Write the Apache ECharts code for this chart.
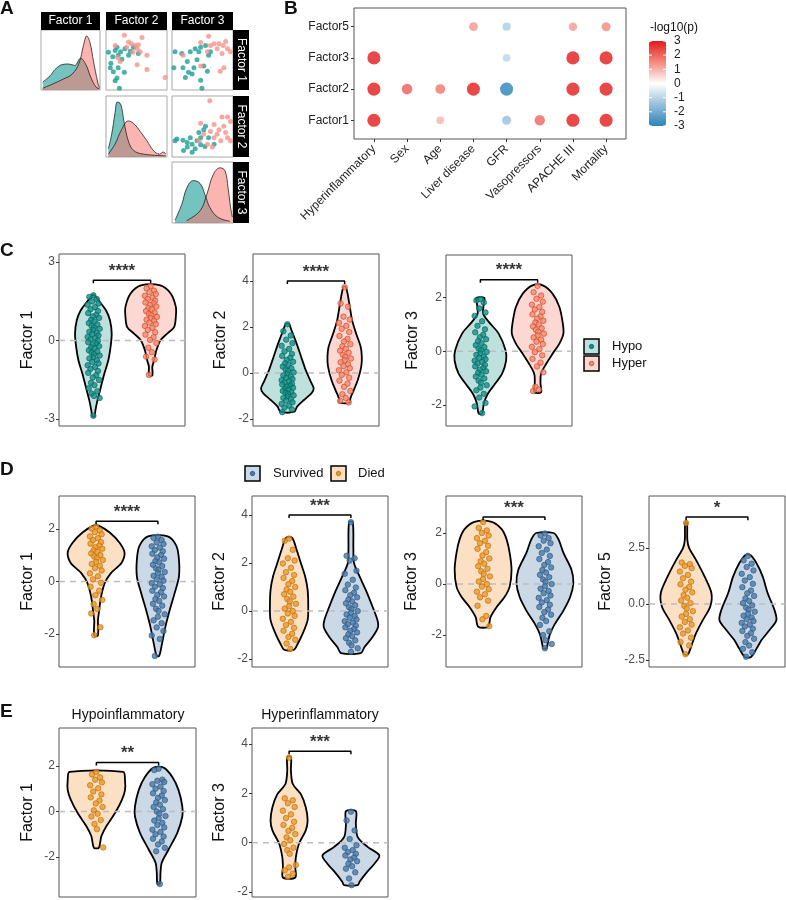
<!DOCTYPE html>
<html>
<head>
<meta charset="utf-8">
<script src="https://cdn.jsdelivr.net/npm/echarts@6/dist/echarts.min.js"></script>
<style>
html, body { margin: 0; padding: 0; background: #fff; }
#main { width: 786px; height: 900px; }
</style>
</head>
<body>
<div id="main"></div>
<script>
// ---------- panel A (pairs plot, panel-relative 0-10 units) ----------
var a11Hypo = [[0.3,1.4],[1.55,2.5],[2.4,3.6],[3.6,4.45],[4.7,4.55],[5.7,4.3],[6.7,5.55],[7.6,4.45],[8.45,2.2],[9.3,0.55],[9.9,0.2]];
var a11Hyper = [[0.3,0.3],[2.1,1.1],[3.85,1.95],[5.3,2.8],[6.45,4.7],[7.2,7.8],[7.75,9.45],[8.3,8.3],[8.9,5.0],[9.6,1.4],[9.9,0.4]];
var a22Hypo = [[0.38,1.4],[0.93,3.9],[1.5,7.7],[1.85,9.45],[2.4,9.1],[2.95,6.1],[3.65,2.8],[4.5,1.15],[6.1,0.5],[9.8,0.2]];
var a22Hyper = [[0.38,0.5],[1.5,2.25],[2.55,4.7],[3.65,6.2],[4.5,5.8],[5.6,4.4],[6.7,2.8],[7.75,1.15],[8.75,0.5],[9.4,0.85],[9.8,0.5]];
var a33Hypo = [[0.5,0.5],[1.6,3.2],[2.4,5.95],[3.5,7.3],[4.6,6.8],[5.4,4.9],[6.2,2.7],[7.5,1.0],[9.5,0.3]];
var a33Hyper = [[2.4,0.4],[4.6,2.1],[5.7,4.9],[6.8,8.4],[7.9,9.5],[8.7,8.95],[9.2,5.95],[9.6,2.7],[9.9,1.0]];
var a12Hyper = [[3.0,9.6],[5.9,9.2],[1.5,7.8],[4.2,8.1],[4.8,7.8],[5.1,7.2],[5.6,6.7],[6.7,6.1],[2.3,5.0],[5.1,4.4],[6.7,3.6],[9.7,2.2],[3.7,8.4],[4.4,6.6],[1.9,5.7],[3.4,7.5],[5.3,7.9]];
var a12Hypo = [[0.4,6.6],[1.5,6.9],[2.4,6.7],[3.1,7.2],[3.7,6.1],[4.5,7.5],[0.7,3.9],[1.2,3.2],[2.0,3.9],[3.0,3.1],[1.8,2.1],[2.2,0.3],[1.5,1.6],[0.8,4.7],[2.6,5.4],[4.0,6.8],[5.3,6.4],[2.0,6.1],[1.8,7.5],[1.1,5.8]];
var a13Hyper = [[6.0,9.4],[6.9,8.1],[7.7,8.1],[8.4,7.8],[9.1,7.2],[9.6,6.7],[7.4,7.2],[6.3,7.8],[4.7,8.3],[8.2,6.4],[8.5,3.9],[7.9,3.3],[1.8,6.1],[5.8,6.7],[8.8,8.5],[4.7,4.2]];
var a13Hypo = [[0.5,6.7],[1.6,6.4],[3.0,6.7],[3.8,7.2],[4.7,7.5],[5.5,7.8],[6.3,6.7],[4.1,5.3],[2.5,5.0],[1.8,3.9],[2.7,3.1],[3.3,2.8],[5.2,4.2],[5.8,3.3],[4.7,1.7],[4.9,0.3],[2.2,2.2],[6.0,6.1],[4.4,6.7],[3.6,3.9],[0.3,3.9]];
var a23Hyper = [[6.2,9.7],[8.2,6.9],[9.1,6.9],[9.6,6.1],[8.5,5.3],[7.7,4.7],[6.9,5.6],[6.3,4.4],[5.2,3.9],[4.7,5.8],[4.4,2.8],[6.9,3.3],[8.0,2.8],[9.1,3.3],[9.6,2.8],[5.8,2.2],[7.4,3.9],[8.8,4.2],[6.6,1.7]];
var a23Hypo = [[0.5,2.8],[1.8,2.9],[2.5,2.5],[3.3,2.2],[4.1,2.8],[4.7,3.3],[5.2,4.7],[5.5,5.3],[6.0,3.3],[2.5,1.7],[3.3,0.8],[1.9,1.1],[3.8,1.4],[4.7,2.1],[5.4,1.8],[0.8,3.1],[6.9,2.2],[3.0,3.3],[4.4,4.2]];
var aLabels = ['Factor 1', 'Factor 2', 'Factor 3'];

// ---------- panel B (signed -log10 p) ----------
var bVars = ['Hyperinflammatory', 'Sex', 'Age', 'Liver disease', 'GFR', 'Vasopressors', 'APACHE III', 'Mortality'];
var bFactors = ['Factor1', 'Factor2', 'Factor3', 'Factor5'];
var bFactor1 = [3, null, 1.0, null, -1.5, 2.0, 3, 3];
var bFactor2 = [3, 2.1, 1.8, 3, -3, null, 3, 3];
var bFactor3 = [3, null, null, null, -1.0, null, 3, 3];
var bFactor5 = [null, null, null, 1.4, -1.2, null, 1.3, 1.5];
var bLegendTicks = [3, 2, 1, 0, -1, -2, -3];

// ---------- violin profiles: [value, half width] ----------
var c1HypoProfile = [[1.72,0.02],[1.53,0.09],[1.15,0.22],[0.77,0.29],[0.26,0.32],[-0.26,0.30],[-0.77,0.26],[-1.28,0.19],[-1.79,0.13],[-2.30,0.07],[-2.68,0.035],[-2.9,0.02]];
var c1HyperProfile = [[2.1,0.17],[1.79,0.35],[1.28,0.44],[0.9,0.44],[0.51,0.41],[0.26,0.29],[0,0.17],[-0.38,0.10],[-0.77,0.06],[-1.0,0.03],[-1.34,0.03]];
var c2HypoProfile = [[2.13,0.03],[1.87,0.07],[1.29,0.16],[0.71,0.24],[0.13,0.32],[-0.38,0.41],[-0.67,0.46],[-0.88,0.42],[-1.17,0.29],[-1.46,0.17],[-1.68,0.12]];
var c2HyperProfile = [[3.75,0.02],[3.46,0.05],[2.88,0.09],[2.3,0.13],[1.72,0.2],[1.14,0.28],[0.71,0.30],[0.28,0.29],[-0.3,0.23],[-0.74,0.16],[-1.1,0.10],[-1.29,0.09]];
var c3HypoProfile = [[1.99,0.07],[1.78,0.06],[1.4,0.05],[1.09,0.15],[0.66,0.32],[0.04,0.44],[-0.34,0.45],[-0.83,0.38],[-1.2,0.26],[-1.58,0.13],[-1.95,0.06],[-2.32,0.03]];
var c3HyperProfile = [[2.46,0.09],[2.15,0.26],[1.65,0.38],[1.03,0.44],[0.66,0.45],[0.29,0.38],[-0.09,0.26],[-0.46,0.15],[-0.83,0.06],[-1.2,0.05],[-1.52,0.06]];
var d1DiedProfile = [[2.13,0.04],[1.87,0.22],[1.48,0.38],[1.1,0.46],[0.71,0.41],[0.32,0.24],[-0.06,0.14],[-0.58,0.08],[-1.1,0.05],[-1.48,0.03],[-2.06,0.03]];
var d1SurvProfile = [[1.72,0.16],[1.35,0.3],[0.84,0.34],[0.19,0.34],[-0.45,0.27],[-1.1,0.19],[-1.74,0.12],[-2.39,0.065],[-2.84,0.02]];
var d2DiedProfile = [[3.05,0.05],[2.56,0.12],[2.0,0.19],[1.44,0.26],[0.88,0.3],[0.18,0.31],[-0.38,0.3],[-0.94,0.22],[-1.36,0.14],[-1.61,0.08]];
var d2SurvProfile = [[3.7,0.03],[2.56,0.04],[2.0,0.05],[1.44,0.14],[0.88,0.24],[0.18,0.35],[-0.38,0.43],[-0.66,0.44],[-1.08,0.35],[-1.5,0.22],[-1.75,0.16]];
var d3DiedProfile = [[2.44,0.14],[2.15,0.3],[1.75,0.38],[1.22,0.43],[0.56,0.46],[-0.1,0.43],[-0.5,0.35],[-0.9,0.22],[-1.3,0.12],[-1.67,0.08]];
var d3SurvProfile = [[2.0,0.14],[1.75,0.22],[1.22,0.3],[0.56,0.43],[0.03,0.46],[-0.5,0.41],[-1.04,0.3],[-1.57,0.16],[-1.97,0.08],[-2.39,0.04],[-2.52,0.03]];
var d4DiedProfile = [[3.64,0.015],[2.87,0.02],[2.49,0.05],[1.97,0.16],[1.22,0.3],[0.48,0.41],[-0.12,0.39],[-0.72,0.27],[-1.31,0.16],[-1.91,0.08],[-2.25,0.03]];
var d4SurvProfile = [[2.19,0.04],[1.82,0.14],[1.22,0.24],[0.48,0.32],[-0.27,0.43],[-0.72,0.46],[-1.16,0.35],[-1.61,0.22],[-1.99,0.14],[-2.36,0.05]];
var e1DiedProfile = [[1.74,0.43],[1.38,0.46],[0.94,0.46],[0.51,0.41],[-0.07,0.3],[-0.65,0.16],[-1.09,0.08],[-1.59,0.04]];
var e1SurvProfile = [[1.93,0.08],[1.52,0.22],[0.94,0.32],[0.22,0.38],[-0.22,0.38],[-0.94,0.3],[-1.67,0.16],[-2.25,0.05],[-2.68,0.03],[-3.19,0.02]];
var e2DiedProfile = [[3.48,0.03],[2.91,0.03],[2.38,0.06],[1.97,0.19],[1.44,0.27],[0.9,0.3],[0.5,0.27],[-0.04,0.16],[-0.58,0.11],[-0.98,0.1],[-1.41,0.1]];
var e2SurvProfile = [[1.28,0.08],[0.77,0.08],[0.23,0.11],[-0.17,0.27],[-0.51,0.46],[-0.85,0.38],[-1.25,0.24],[-1.58,0.14],[-1.72,0.11]];

// ---------- individual patient values ----------
var c1Hypo = [1.72,1.66,1.58,1.49,1.41,1.36,1.27,1.19,1.12,1.04,0.97,0.91,0.86,0.78,0.72,0.66,0.61,0.55,0.49,0.44,0.4,0.33,0.28,0.24,0.19,0.13,0.08,0.04,-0.01,-0.07,-0.12,-0.16,-0.22,-0.27,-0.31,-0.38,-0.43,-0.47,-0.53,-0.58,-0.64,-0.69,-0.76,-0.82,-0.88,-0.95,-1.02,-1.09,-1.17,-1.24,-1.33,-1.42,-1.51,-1.62,-1.71,-1.83,-1.94,-2.03,-2.12,-2.2,-2.88];
var c1Hyper = [2.08,1.98,1.9,1.84,1.77,1.7,1.63,1.58,1.52,1.45,1.41,1.35,1.29,1.23,1.18,1.12,1.06,1.01,0.96,0.9,0.85,0.79,0.74,0.68,0.62,0.55,0.48,0.4,0.31,0.22,0.12,0.02,-0.1,-0.28,-0.45,-0.62,-0.73,-1.32];
var c2Hypo = [2.12,1.82,1.63,1.45,1.3,1.18,1.05,0.94,0.83,0.74,0.66,0.57,0.49,0.42,0.35,0.28,0.21,0.15,0.09,0.03,-0.04,-0.1,-0.15,-0.21,-0.26,-0.31,-0.36,-0.41,-0.46,-0.5,-0.55,-0.6,-0.64,-0.69,-0.73,-0.78,-0.83,-0.87,-0.92,-0.97,-1.02,-1.08,-1.14,-1.2,-1.27,-1.34,-1.42,-1.5,-1.58,-1.7];
var c2Hyper = [3.73,3.02,2.88,2.45,2.32,2.18,2.05,1.92,1.78,1.61,1.48,1.37,1.25,1.16,1.05,0.97,0.88,0.79,0.7,0.63,0.55,0.47,0.38,0.3,0.21,0.12,0.03,-0.08,-0.2,-0.33,-0.46,-0.6,-0.78,-0.92,-1.08,-1.21,-1.28];
var c3Hypo = [1.95,1.9,1.82,1.6,1.45,1.32,1.12,0.95,0.82,0.71,0.62,0.53,0.45,0.38,0.3,0.23,0.16,0.1,0.04,-0.02,-0.08,-0.13,-0.19,-0.24,-0.29,-0.35,-0.4,-0.45,-0.51,-0.56,-0.62,-0.68,-0.74,-0.8,-0.87,-0.94,-1.01,-1.09,-1.17,-1.26,-1.35,-1.45,-1.58,-1.72,-1.92,-2.05,-2.3];
var c3Hyper = [2.44,2.2,2.08,1.96,1.85,1.74,1.65,1.56,1.47,1.38,1.3,1.22,1.14,1.07,1.0,0.93,0.86,0.8,0.73,0.66,0.59,0.52,0.44,0.36,0.27,0.17,0.08,-0.03,-0.15,-0.28,-0.42,-0.56,-0.78,-1.32,-1.42,-1.48];
var d1Died = [2.1,2.02,1.95,1.88,1.8,1.72,1.65,1.58,1.5,1.44,1.37,1.31,1.25,1.19,1.13,1.07,1.01,0.95,0.89,0.82,0.75,0.67,0.6,0.51,0.42,0.31,0.2,0.08,-0.05,-0.2,-0.35,-0.52,-0.7,-0.86,-1.05,-1.22,-1.74,-2.05];
var d1Surv = [1.71,1.66,1.58,1.49,1.43,1.34,1.29,1.2,1.15,1.06,1.01,0.92,0.87,0.78,0.73,0.64,0.59,0.5,0.45,0.36,0.31,0.22,0.17,0.08,0.03,-0.06,-0.11,-0.2,-0.25,-0.35,-0.41,-0.51,-0.57,-0.67,-0.74,-0.85,-0.92,-1.04,-1.12,-1.25,-1.34,-1.48,-1.59,-1.75,-1.89,-2.06,-2.19,-2.84];
var d2Died = [3.02,2.93,2.55,2.2,2.1,1.98,1.8,1.62,1.5,1.38,1.25,1.12,1.0,0.9,0.8,0.7,0.6,0.5,0.4,0.3,0.2,0.1,0.0,-0.1,-0.2,-0.32,-0.45,-0.58,-0.7,-0.82,-0.95,-1.08,-1.2,-1.35,-1.58];
var d2Surv = [3.7,2.3,2.2,2.1,1.68,1.55,1.3,1.1,0.98,0.87,0.76,0.66,0.57,0.48,0.4,0.32,0.24,0.16,0.08,0.0,-0.07,-0.14,-0.21,-0.28,-0.35,-0.42,-0.48,-0.55,-0.61,-0.68,-0.75,-0.82,-0.89,-0.97,-1.05,-1.13,-1.22,-1.32,-1.43,-1.55,-1.7];
var d3Died = [2.43,2.2,2.1,2.0,1.9,1.8,1.7,1.6,1.5,1.38,1.25,1.12,1.0,0.9,0.8,0.7,0.6,0.5,0.4,0.3,0.2,0.1,0.0,-0.1,-0.2,-0.3,-0.4,-0.52,-0.65,-0.85,-1.25,-1.38,-1.65];
var d3Surv = [1.98,1.9,1.8,1.7,1.6,1.48,1.35,1.22,1.1,0.98,0.86,0.75,0.65,0.55,0.45,0.36,0.27,0.18,0.09,0.0,-0.09,-0.18,-0.27,-0.36,-0.45,-0.54,-0.63,-0.72,-0.81,-0.9,-1.0,-1.1,-1.2,-1.32,-1.45,-1.6,-1.85,-2.0,-2.2,-2.35,-2.52];
var d4Died = [3.62,1.85,1.78,1.7,1.6,1.45,1.3,1.15,1.0,0.88,0.76,0.64,0.52,0.4,0.28,0.16,0.04,-0.08,-0.2,-0.32,-0.44,-0.56,-0.68,-0.8,-0.92,-1.04,-1.18,-1.32,-1.5,-1.7,-1.85,-2.24];
var d4Surv = [2.15,1.95,1.8,1.65,1.5,1.35,1.2,1.05,0.9,0.75,0.6,0.48,0.36,0.25,0.14,0.04,-0.06,-0.16,-0.25,-0.34,-0.43,-0.52,-0.6,-0.68,-0.76,-0.84,-0.92,-1.0,-1.1,-1.2,-1.3,-1.42,-1.55,-1.7,-1.85,-2.0,-2.15,-2.35];
var e1Died = [1.74,1.63,1.5,1.4,1.28,1.15,1.02,0.88,0.75,0.62,0.48,0.35,0.2,0.05,-0.1,-0.22,-0.38,-0.55,-0.78,-1.58];
var e1Surv = [1.88,1.82,1.4,1.35,1.3,1.2,1.1,1.0,0.9,0.8,0.7,0.6,0.5,0.4,0.3,0.2,0.1,0.0,-0.1,-0.2,-0.3,-0.4,-0.5,-0.6,-0.7,-0.8,-0.9,-1.0,-1.1,-1.2,-1.32,-1.45,-1.6,-1.75,-3.19];
var e2Died = [3.45,1.8,1.72,1.6,1.45,1.3,1.15,1.0,0.85,0.72,0.6,0.48,0.35,0.22,0.1,-0.05,-0.2,-0.3,-0.45,-0.9,-1.0,-1.12,-1.25,-1.38];
var e2Surv = [1.26,0.9,0.5,0.15,-0.1,-0.2,-0.3,-0.38,-0.45,-0.52,-0.6,-0.68,-0.75,-0.85,-0.95,-1.05,-1.2,-1.45,-1.72];

// ---------- styles ----------
var FONT = 'Liberation Sans';
var HYPO = {fill: '#BFE1DE', dot: '#12918A', edge: '#0A5F5A'};
var HYPER = {fill: '#FDD8D3', dot: '#F08A70', edge: '#D2421F'};
var DIED = {fill: '#FCE0C3', dot: '#E8992E', edge: '#BF6A00'};
var SURV = {fill: '#CBD9E7', dot: '#4A79A6', edge: '#2B5580'};
var jit = [0.00,-0.07,0.06,-0.02,0.09,-0.1,0.03,-0.05,0.08,-0.09,0.05,-0.01,0.1,-0.04,0.02,-0.08,0.07,-0.03,0.01,0.11];

var grids = [], xAxes = [], yAxes = [], series = [], graphics = [];

function addGrid(box, border) {
  grids.push({left: box[0], top: box[1], width: box[2], height: box[3], show: true,
    borderColor: border, borderWidth: 1, backgroundColor: 'transparent'});
  return grids.length - 1;
}

// ---------- panel A ----------
var aCols = [[41, 59], [106, 61], [172, 61]];
var aRows = [[30, 60], [96, 61], [162, 61]];
function aGrid(c, r) {
  var gi = addGrid([aCols[c][0], aRows[r][0], aCols[c][1], aRows[r][1]], '#A8A8A8');
  xAxes.push({gridIndex: gi, type: 'value', min: 0, max: 10, show: false});
  yAxes.push({gridIndex: gi, type: 'value', min: 0, max: 10.5, show: false});
  return gi;
}
function aDensity(gi, hypo, hyper) {
  [[hypo, '#1E9E96', 0.62], [hyper, '#F8766D', 0.55]].forEach(function (d) {
    series.push({type: 'line', xAxisIndex: gi, yAxisIndex: gi, data: d[0], smooth: 0.4, symbol: 'none',
      lineStyle: {color: '#222', width: 0.8}, areaStyle: {color: d[1], opacity: d[2]}, silent: true});
  });
}
function aScatter(gi, hypo, hyper) {
  [[hypo, '#1E9E96'], [hyper, '#F7918A']].forEach(function (d) {
    series.push({type: 'scatter', xAxisIndex: gi, yAxisIndex: gi, data: d[0], symbolSize: 5,
      itemStyle: {color: d[1], opacity: 0.8}, silent: true});
  });
}
aDensity(aGrid(0, 0), a11Hypo, a11Hyper);
aScatter(aGrid(1, 0), a12Hypo, a12Hyper);
aScatter(aGrid(2, 0), a13Hypo, a13Hyper);
aDensity(aGrid(1, 1), a22Hypo, a22Hyper);
aScatter(aGrid(2, 1), a23Hypo, a23Hyper);
aDensity(aGrid(2, 2), a33Hypo, a33Hyper);
aCols.forEach(function (c, i) {
  graphics.push({type: 'rect', shape: {x: c[0], y: 12, width: c[1], height: 18}, style: {fill: '#000'}});
  graphics.push({type: 'text', x: c[0] + c[1] / 2, y: 21, style: {text: aLabels[i], fill: '#fff',
    font: '12px ' + FONT, textAlign: 'center', textVerticalAlign: 'middle'}});
});
aRows.forEach(function (r, i) {
  graphics.push({type: 'rect', shape: {x: 233, y: r[0], width: 16, height: r[1]}, style: {fill: '#000'}});
  graphics.push({type: 'text', x: 241, y: r[0] + r[1] / 2, rotation: -Math.PI / 2, style: {text: aLabels[i],
    fill: '#fff', font: '12px ' + FONT, textAlign: 'center', textVerticalAlign: 'middle'}});
});

// ---------- panel B ----------
var bGi = addGrid([354, 8, 272, 131], '#555');
xAxes.push({gridIndex: bGi, type: 'value', min: -0.6, max: 7.6, splitLine: {show: false},
  axisLine: {show: false, onZero: false},
  axisTick: {show: true, customValues: [0,1,2,3,4,5,6,7], length: 3, lineStyle: {color: '#333'}},
  axisLabel: {customValues: [0,1,2,3,4,5,6,7], rotate: 45, fontSize: 12, color: '#222', margin: 8,
    formatter: function (v) { return bVars[Math.round(v)]; }}});
yAxes.push({gridIndex: bGi, type: 'value', min: -0.6, max: 3.6, splitLine: {show: false},
  axisLine: {show: false, onZero: false},
  axisTick: {show: true, customValues: [0,1,2,3], length: 3, lineStyle: {color: '#333'}},
  axisLabel: {customValues: [0,1,2,3], fontSize: 12, color: '#222', margin: 5,
    formatter: function (v) { return bFactors[Math.round(v)]; }}});
var bData = [];
[bFactor1, bFactor2, bFactor3, bFactor5].forEach(function (row, yi) {
  row.forEach(function (v, xi) { if (v !== null) bData.push([xi, yi, v]); });
});
var bSeriesIndex = series.length;
series.push({type: 'scatter', xAxisIndex: bGi, yAxisIndex: bGi, data: bData, silent: true,
  symbolSize: function (d) { return 5 + 2.7 * Math.abs(d[2]); }});
graphics.push({type: 'text', x: 650, y: 28, style: {text: '-log10(p)', fill: '#111', font: '12px ' + FONT,
  textAlign: 'left', textVerticalAlign: 'middle'}});
bLegendTicks.forEach(function (t) {
  var y = 41 + (3 - t) / 6 * 85;
  graphics.push({type: 'text', x: 674, y: y, style: {text: String(t), fill: '#222', font: '12px ' + FONT,
    textAlign: 'left', textVerticalAlign: 'middle'}});
  graphics.push({type: 'line', z: 100, shape: {x1: 649, y1: y, x2: 652, y2: y}, style: {stroke: '#fff', lineWidth: 1}});
  graphics.push({type: 'line', z: 100, shape: {x1: 663, y1: y, x2: 666, y2: y}, style: {stroke: '#fff', lineWidth: 1}});
});

// ---------- violin panels C, D, E ----------
function violinPanel(p) {
  var gi = addGrid(p.box, '#555');
  xAxes.push({gridIndex: gi, type: 'value', min: 0.4, max: 2.6, show: false});
  yAxes.push({gridIndex: gi, type: 'value', min: p.yMin, max: p.yMax, splitLine: {show: false},
    axisLine: {show: false, onZero: false},
    axisTick: {show: true, customValues: p.ticks, length: 3, lineStyle: {color: '#333'}},
    axisLabel: {customValues: p.ticks, fontSize: 12, color: '#4d4d4d', margin: 4,
      formatter: p.fmt || function (v) { return String(v); }},
    name: p.name, nameLocation: 'middle', nameGap: p.gap,
    nameTextStyle: {fontSize: 16, color: '#111', fontFamily: FONT}});
  p.groups.forEach(function (g, k) {
    var cx = k + 1, prof = g[1];
    series.push({type: 'custom', xAxisIndex: gi, yAxisIndex: gi, data: [[cx, prof[0][0]]], z: 2, silent: true,
      renderItem: function (params, api) {
        var pts = [], i;
        for (i = 0; i < prof.length; i++) pts.push(api.coord([cx - prof[i][1], prof[i][0]]));
        for (i = prof.length - 1; i >= 0; i--) pts.push(api.coord([cx + prof[i][1], prof[i][0]]));
        return {type: 'polygon', shape: {points: pts, smooth: 0.3},
          style: {fill: g[0].fill, stroke: '#000', lineWidth: 1.8}};
      }});
  });
  series.push({type: 'line', xAxisIndex: gi, yAxisIndex: gi, data: [[0.4, 0], [2.6, 0]], symbol: 'none', z: 3,
    silent: true, lineStyle: {color: '#BDBDBD', width: 1.5, type: [6, 5]}});
  p.groups.forEach(function (g, k) {
    var cx = k + 1;
    series.push({type: 'scatter', xAxisIndex: gi, yAxisIndex: gi, z: 4, silent: true, symbolSize: 5.5,
      data: g[2].map(function (v, i) { return [cx + jit[i % jit.length], v]; }),
      itemStyle: {color: g[0].dot, borderColor: g[0].edge, borderWidth: 0.8}});
  });
  var tip = (p.yMax - p.yMin) * 0.018;
  series.push({type: 'line', xAxisIndex: gi, yAxisIndex: gi, symbol: 'none', z: 5, silent: true,
    data: [[1, p.bracket - tip], [1, p.bracket], [2, p.bracket], [2, p.bracket - tip]],
    lineStyle: {color: '#000', width: 1.5}});
  series.push({type: 'scatter', xAxisIndex: gi, yAxisIndex: gi, z: 5, silent: true, symbolSize: 1,
    data: [[1.5, p.bracket]], itemStyle: {color: 'rgba(0,0,0,0)'},
    label: {show: true, position: 'top', distance: 0, formatter: p.stars, fontSize: 17, fontWeight: 'bold',
      color: '#000', fontFamily: FONT}});
}

var panels = [
  {box: [59, 254, 126, 172], yMin: -3.27, yMax: 3.3, ticks: [-3, 0, 3], name: 'Factor 1', gap: 23,
    groups: [[HYPO, c1HypoProfile, c1Hypo], [HYPER, c1HyperProfile, c1Hyper]], bracket: 2.3, stars: '****'},
  {box: [253, 254, 126, 172], yMin: -2.3, yMax: 5.17, ticks: [-2, 0, 2, 4], name: 'Factor 2', gap: 24,
    groups: [[HYPO, c2HypoProfile, c2Hypo], [HYPER, c2HyperProfile, c2Hyper]], bracket: 4.0, stars: '****'},
  {box: [446, 255, 126, 171], yMin: -2.78, yMax: 3.59, ticks: [-2, 0, 2], name: 'Factor 3', gap: 25,
    groups: [[HYPO, c3HypoProfile, c3Hypo], [HYPER, c3HyperProfile, c3Hyper]], bracket: 2.67, stars: '****'},
  {box: [59, 496, 136, 171], yMin: -3.26, yMax: 3.26, ticks: [-2, 0, 2], name: 'Factor 1', gap: 23,
    groups: [[DIED, d1DiedProfile, d1Died], [SURV, d1SurvProfile, d1Surv]], bracket: 2.3, stars: '****'},
  {box: [252, 496, 136, 171], yMin: -2.33, yMax: 4.79, ticks: [-2, 0, 2, 4], name: 'Factor 2', gap: 24,
    groups: [[DIED, d2DiedProfile, d2Died], [SURV, d2SurvProfile, d2Surv]], bracket: 4.0, stars: '***'},
  {box: [446, 496, 136, 171], yMin: -3.25, yMax: 3.45, ticks: [-2, 0, 2], name: 'Factor 3', gap: 26,
    groups: [[DIED, d3DiedProfile, d3Died], [SURV, d3SurvProfile, d3Surv]], bracket: 2.63, stars: '***'},
  {box: [649, 496, 136, 171], yMin: -2.81, yMax: 4.82, ticks: [-2.5, 0, 2.5], name: 'Factor 5', gap: 35,
    fmt: function (v) { return v.toFixed(1); },
    groups: [[DIED, d4DiedProfile, d4Died], [SURV, d4SurvProfile, d4Surv]], bracket: 3.88, stars: '*'},
  {box: [59, 728, 137, 169], yMin: -3.76, yMax: 3.67, ticks: [-2, 0, 2], name: 'Factor 1', gap: 23,
    groups: [[DIED, e1DiedProfile, e1Died], [SURV, e1SurvProfile, e1Surv]], bracket: 2.15, stars: '**'},
  {box: [252, 728, 136, 169], yMin: -2.2, yMax: 4.65, ticks: [-2, 0, 2, 4], name: 'Factor 3', gap: 24,
    groups: [[DIED, e2DiedProfile, e2Died], [SURV, e2SurvProfile, e2Surv]], bracket: 3.71, stars: '***'}
];
panels.forEach(violinPanel);

// ---------- legends, titles, panel letters ----------
function legendKey(x, y, st) {
  graphics.push({type: 'rect', shape: {x: x, y: y, width: 15, height: 15},
    style: {fill: st.fill, stroke: '#000', lineWidth: 1.5}});
  graphics.push({type: 'circle', shape: {cx: x + 7.5, cy: y + 7.5, r: 2.2},
    style: {fill: st.dot, stroke: st.edge, lineWidth: 0.8}});
}
function label(x, y, text, size, align, weight) {
  graphics.push({type: 'text', x: x, y: y, style: {text: text, fill: '#111',
    font: (weight || 'normal') + ' ' + size + 'px ' + FONT, textAlign: align, textVerticalAlign: 'middle'}});
}
legendKey(584, 339, HYPO); label(612, 346, 'Hypo', 13, 'left');
legendKey(584, 356, HYPER); label(612, 363, 'Hyper', 13, 'left');
legendKey(245, 466, SURV); label(273, 473, 'Survived', 13, 'left');
legendKey(331, 466, DIED); label(358, 473, 'Died', 13, 'left');
label(128, 715, 'Hypoinflammatory', 14, 'center');
label(320, 715, 'Hyperinflammatory', 14, 'center');
label(0, 9, 'A', 19, 'left', 'bold');
label(284, 9, 'B', 19, 'left', 'bold');
label(0, 251, 'C', 19, 'left', 'bold');
label(0, 470, 'D', 19, 'left', 'bold');
label(0, 712, 'E', 19, 'left', 'bold');

var chart = echarts.init(document.getElementById('main'), null, {renderer: 'canvas'});
chart.setOption({
  animation: false,
  backgroundColor: '#fff',
  textStyle: {fontFamily: FONT},
  grid: grids,
  xAxis: xAxes,
  yAxis: yAxes,
  visualMap: {type: 'continuous', seriesIndex: bSeriesIndex, dimension: 2, min: -3, max: 3,
    left: 649, top: 41, itemWidth: 17, itemHeight: 85, padding: 0, calculable: false, hoverLink: false,
    text: null, inRange: {color: ['#2B83BA', '#96BFDC', '#FFFFFF', '#F48A7E', '#E41A1C']}},
  series: series,
  graphic: graphics
});
</script>
</body>
</html>
